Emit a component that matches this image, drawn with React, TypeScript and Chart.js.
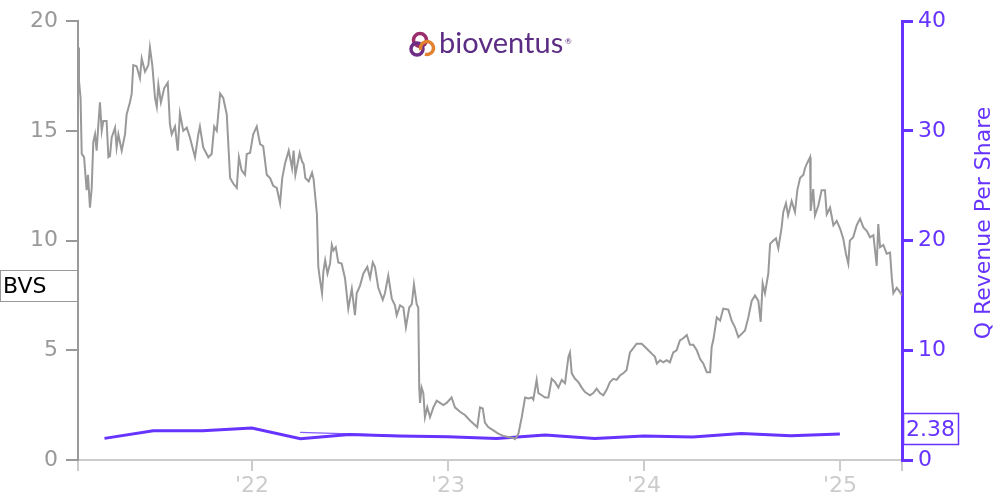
import React, { useEffect, useRef } from "react";
import { Chart, registerables } from "chart.js";

Chart.register(...registerables);

// BVS close price (decimal year, USD)
const priceT = [
  2021.112, 2021.117, 2021.125, 2021.131, 2021.143, 2021.156, 2021.163, 2021.173, 2021.182, 2021.19,
  2021.199, 2021.207, 2021.216, 2021.224, 2021.233, 2021.241, 2021.258, 2021.267, 2021.275, 2021.284,
  2021.301, 2021.309, 2021.318, 2021.335, 2021.352, 2021.36, 2021.377, 2021.386, 2021.394, 2021.411,
  2021.428, 2021.437, 2021.454, 2021.471, 2021.479, 2021.491, 2021.505, 2021.514, 2021.522, 2021.535,
  2021.552, 2021.57, 2021.581, 2021.59, 2021.607, 2021.621, 2021.632, 2021.649, 2021.667, 2021.683,
  2021.709, 2021.726, 2021.734, 2021.751, 2021.777, 2021.794, 2021.807, 2021.82, 2021.837, 2021.853,
  2021.871, 2021.888, 2021.904, 2021.922, 2021.933, 2021.947, 2021.964, 2021.973, 2021.99, 2022.006,
  2022.024, 2022.041, 2022.057, 2022.075, 2022.092, 2022.108, 2022.126, 2022.143, 2022.154, 2022.168,
  2022.187, 2022.204, 2022.212, 2022.221, 2022.243, 2022.255, 2022.263, 2022.272, 2022.289, 2022.306,
  2022.314, 2022.331, 2022.338, 2022.347, 2022.357, 2022.364, 2022.373, 2022.385, 2022.398, 2022.407,
  2022.415, 2022.427, 2022.44, 2022.457, 2022.474, 2022.491, 2022.509, 2022.525, 2022.534, 2022.551,
  2022.568, 2022.588, 2022.602, 2022.616, 2022.627, 2022.644, 2022.667, 2022.678, 2022.695, 2022.713,
  2022.729, 2022.738, 2022.755, 2022.772, 2022.785, 2022.802, 2022.815, 2022.826, 2022.84, 2022.848,
  2022.853, 2022.857, 2022.865, 2022.874, 2022.882, 2022.894, 2022.908, 2022.925, 2022.942, 2022.959,
  2022.976, 2022.993, 2023.018, 2023.035, 2023.061, 2023.086, 2023.112, 2023.137, 2023.149, 2023.163,
  2023.177, 2023.188, 2023.205, 2023.231, 2023.256, 2023.282, 2023.307, 2023.333, 2023.342, 2023.359,
  2023.376, 2023.393, 2023.41, 2023.427, 2023.435, 2023.452, 2023.461, 2023.478, 2023.495, 2023.512,
  2023.529, 2023.546, 2023.563, 2023.58, 2023.597, 2023.614, 2023.622, 2023.631, 2023.648, 2023.665,
  2023.682, 2023.699, 2023.724, 2023.741, 2023.758, 2023.775, 2023.792, 2023.809, 2023.826, 2023.843,
  2023.86, 2023.877, 2023.894, 2023.911, 2023.928, 2023.945, 2023.962, 2023.988, 2024.005, 2024.022,
  2024.039, 2024.056, 2024.065, 2024.082, 2024.098, 2024.115, 2024.132, 2024.141, 2024.149, 2024.166,
  2024.183, 2024.2, 2024.218, 2024.234, 2024.251, 2024.269, 2024.286, 2024.302, 2024.32, 2024.337,
  2024.345, 2024.354, 2024.371, 2024.388, 2024.404, 2024.43, 2024.447, 2024.464, 2024.481, 2024.498,
  2024.515, 2024.532, 2024.549, 2024.566, 2024.583, 2024.595, 2024.605, 2024.617, 2024.634, 2024.643,
  2024.66, 2024.673, 2024.685, 2024.702, 2024.71, 2024.724, 2024.735, 2024.753, 2024.77, 2024.782,
  2024.796, 2024.813, 2024.821, 2024.833, 2024.847, 2024.85, 2024.863, 2024.872, 2024.889, 2024.906,
  2024.923, 2024.932, 2024.949, 2024.966, 2024.983, 2025.0, 2025.016, 2025.03, 2025.042, 2025.05,
  2025.067, 2025.085, 2025.102, 2025.119, 2025.136, 2025.153, 2025.17, 2025.187, 2025.195, 2025.204,
  2025.221, 2025.238, 2025.255, 2025.264, 2025.272, 2025.289, 2025.306, 2025.316,
];
const priceV = [
  18.8, 17.3, 16.5, 13.95, 13.8, 12.3, 13.0, 11.5, 12.4, 14.5,
  14.85, 14.1, 15.3, 16.3, 15.0, 15.45, 15.45, 13.8, 13.85, 14.7,
  15.15, 14.25, 14.85, 14.1, 14.85, 15.75, 16.3, 16.7, 18.0, 17.95,
  17.4, 18.3, 17.7, 18.0, 18.8, 18.0, 16.5, 16.1, 17.1, 16.3,
  16.95, 17.2, 15.3, 14.85, 15.2, 14.1, 15.8, 15.0, 15.15, 14.7,
  13.8, 14.85, 15.2, 14.25, 13.8, 13.95, 15.2, 15.0, 16.7, 16.5,
  15.75, 12.85, 12.6, 12.4, 13.8, 13.2, 13.0, 13.95, 14.0, 14.85,
  15.2, 14.4, 14.3, 13.0, 12.85, 12.5, 12.4, 11.7, 12.85, 13.5,
  14.1, 13.3, 14.1, 13.0, 14.0, 13.6, 13.5, 12.85, 12.7, 13.1,
  12.8, 11.2, 8.8, 8.2, 7.6, 8.6, 9.1, 8.5, 8.95, 9.8,
  9.55, 9.7, 9.0, 8.95, 8.3, 6.9, 7.8, 6.6, 7.6, 7.95,
  8.5, 8.8, 8.3, 9.0, 8.8, 7.85, 7.3, 7.6, 8.4, 7.35,
  7.05, 6.6, 7.05, 6.95, 6.05, 6.95, 7.1, 8.0, 7.1, 6.95,
  3.3, 2.6, 3.3, 3.05, 1.95, 2.4, 1.95, 2.4, 2.7, 2.6,
  2.5, 2.6, 2.85, 2.4, 2.2, 2.05, 1.8, 1.6, 1.5, 2.4,
  2.35, 1.7, 1.5, 1.35, 1.2, 1.1, 1.05, 1.0, 0.95, 1.2,
  1.95, 2.85, 2.8, 2.85, 2.75, 3.65, 3.05, 2.95, 2.85, 2.85,
  3.7, 3.55, 3.3, 3.65, 3.5, 4.7, 4.9, 3.95, 3.7, 3.55,
  3.3, 3.1, 2.95, 3.05, 3.25, 3.05, 2.95, 3.2, 3.55, 3.7,
  3.65, 3.85, 3.95, 4.1, 4.9, 5.1, 5.3, 5.3, 5.15, 5.0,
  4.85, 4.7, 4.4, 4.55, 4.45, 4.55, 4.45, 4.7, 4.9, 5.0,
  5.45, 5.55, 5.7, 5.25, 5.25, 5.0, 4.6, 4.4, 4.0, 4.0,
  5.15, 5.5, 6.5, 6.35, 6.9, 6.85, 6.35, 6.05, 5.6, 5.75,
  5.9, 6.5, 7.25, 7.5, 7.25, 6.3, 8.05, 7.6, 8.5, 9.85,
  10.0, 10.1, 9.65, 10.6, 11.3, 11.7, 11.15, 11.8, 11.3, 12.3,
  12.85, 13.0, 13.3, 13.55, 13.8, 11.35, 12.35, 11.15, 11.6, 12.3,
  12.3, 11.2, 11.5, 10.7, 10.9, 10.55, 10.1, 9.4, 8.95, 10.0,
  10.15, 10.7, 11.0, 10.6, 10.45, 10.15, 10.25, 8.85, 10.75, 9.7,
  9.8, 9.4, 9.45, 8.3, 7.6, 7.85, 7.65, 7.5,
];

// Quarterly revenue per share (quarter ends, decimal year)
const revT = [
  2021.247, 2021.496, 2021.748, 2021.999, 2022.247, 2022.496, 2022.748, 2022.999,
  2023.247, 2023.496, 2023.748, 2023.999, 2024.247, 2024.496, 2024.748, 2024.999,
];
const revV = [1.97, 2.67, 2.67, 2.91, 1.94, 2.33, 2.18, 2.12, 1.97, 2.27, 1.97, 2.18, 2.1, 2.42, 2.22, 2.38];

// Faint secondary revenue trace
const revThinT = [2022.245, 2022.5, 2022.755, 2022.999];
const revThinV = [2.52, 2.38, 2.22, 2.13];

const xMin = 2021.112;
const xMax = 2025.316;
const xTickValues = [2021.112, 2022, 2023, 2024, 2025, 2025.316];
const leftTicks = [0, 5, 10, 15, 20];
const rightTicks = [0, 10, 20, 30, 40];

const tickerLabel = "BVS";
const tickerLabelValue = 7.95;
const revLastLabel = "2.38";
const revLastValue = 2.38;
const rightTitle = "Q Revenue Per Share";

const GRAY = "#999999";
const LIGHT = "#cccccc";
const PURPLE = "#6633ff";
const FONT = "DejaVu Sans";

const overlayPlugin = {
  id: "overlay",
  afterDraw(chart: any) {
    const ctx = chart.ctx as CanvasRenderingContext2D;
    const ys = chart.scales.y;
    const yr = chart.scales.y1;
    const area = chart.chartArea;
    ctx.save();

    // ticker box on the left
    const yb = Math.round(ys.getPixelForValue(tickerLabelValue));
    ctx.fillStyle = "#ffffff";
    ctx.fillRect(0, yb - 16, area.left - 1, 32);
    ctx.strokeStyle = GRAY;
    ctx.lineWidth = 1;
    ctx.strokeRect(0.5, yb - 15.5, area.left - 1, 31);
    ctx.fillStyle = "#000000";
    ctx.font = `22px "${FONT}"`;
    ctx.textBaseline = "middle";
    ctx.textAlign = "left";
    ctx.fillText(tickerLabel, 3, yb + 1);

    // last revenue box on the right
    const yv = Math.round(yr.getPixelForValue(revLastValue)) - 5;
    ctx.fillStyle = "#ffffff";
    ctx.fillRect(area.right + 1, yv - 16, 56, 32);
    ctx.strokeStyle = PURPLE;
    ctx.lineWidth = 1.5;
    ctx.strokeRect(area.right + 1.5, yv - 15.5, 55, 31);
    ctx.fillStyle = PURPLE;
    ctx.fillText(revLastLabel, area.right + 4, yv + 1);

    // right axis title, reading bottom-to-top
    ctx.save();
    ctx.translate(984, 223);
    ctx.rotate(-Math.PI / 2);
    ctx.textAlign = "center";
    ctx.textBaseline = "middle";
    ctx.fillStyle = PURPLE;
    ctx.font = `22px "${FONT}"`;
    ctx.fillText(rightTitle, 0, 0);
    ctx.restore();

    // logo
    const lx = 419;
    const ly = 44;
    ctx.lineWidth = 3.5;
    ctx.strokeStyle = "#9b2d6b";
    ctx.beginPath();
    ctx.arc(lx + 1, ly - 4, 6.5, 0, Math.PI * 2);
    ctx.stroke();
    ctx.strokeStyle = "#6e2e86";
    ctx.beginPath();
    ctx.arc(lx - 2, ly + 5, 6, 0, Math.PI * 2);
    ctx.stroke();
    ctx.strokeStyle = "#e2822f";
    ctx.beginPath();
    ctx.arc(lx + 8, ly + 4, 6.5, Math.PI * 0.9, Math.PI * 2.6);
    ctx.stroke();

    ctx.fillStyle = "#5c2d84";
    ctx.font = "29px Lato";
    ctx.textBaseline = "alphabetic";
    ctx.textAlign = "left";
    ctx.fillText("bioventus", 439, 53);
    ctx.font = "8px Lato";
    ctx.fillText("®", 565, 44);
    ctx.restore();
  },
};

export default function App() {
  const ref = useRef<HTMLCanvasElement | null>(null);

  useEffect(() => {
    if (!ref.current) return;
    const chart = new Chart(ref.current, {
      type: "line",
      data: {
        datasets: [
          {
            label: "BVS",
            data: priceT.map((t, i) => ({ x: t, y: priceV[i] })),
            borderColor: GRAY,
            borderWidth: 2,
            pointRadius: 0,
            yAxisID: "y",
            order: 0,
          },
          {
            label: "Q Revenue Per Share",
            data: revT.map((t, i) => ({ x: t, y: revV[i] })),
            borderColor: PURPLE,
            borderWidth: 3,
            pointRadius: 0,
            yAxisID: "y1",
            order: 2,
          },
          {
            label: "Q Revenue Per Share (prior)",
            data: revThinT.map((t, i) => ({ x: t, y: revThinV[i] })),
            borderColor: "rgba(102,51,255,0.8)",
            borderWidth: 1.2,
            pointRadius: 0,
            yAxisID: "y1",
            order: 1,
          },
        ],
      },
      options: {
        responsive: false,
        animation: false,
        events: [],
        layout: { padding: { top: 20, left: 0, right: 0, bottom: 0 } },
        plugins: { legend: { display: false }, tooltip: { enabled: false } },
        scales: {
          x: {
            type: "linear",
            min: xMin,
            max: xMax,
            afterBuildTicks: (s: any) => {
              s.ticks = xTickValues.map((v) => ({ value: v }));
            },
            afterFit: (s: any) => {
              s.height = 40;
            },
            ticks: {
              autoSkip: false,
              maxRotation: 0,
              color: LIGHT,
              padding: 2,
              font: { family: FONT, size: 22 },
              callback: (v: any) => (Number.isInteger(v) ? "'" + String(v).slice(2) : ""),
            },
            grid: { drawOnChartArea: false, color: LIGHT, tickLength: 11, lineWidth: 2 },
            border: { color: LIGHT, width: 2 },
          },
          y: {
            position: "left",
            min: 0,
            max: 20,
            afterBuildTicks: (s: any) => {
              s.ticks = leftTicks.map((v) => ({ value: v }));
            },
            afterFit: (s: any) => {
              s.width = 78;
            },
            ticks: { color: GRAY, padding: 8, font: { family: FONT, size: 22 } },
            grid: { drawOnChartArea: false, color: GRAY, tickLength: 12, lineWidth: 2 },
            border: { color: GRAY, width: 2 },
          },
          y1: {
            position: "right",
            min: 0,
            max: 40,
            afterBuildTicks: (s: any) => {
              s.ticks = rightTicks.map((v) => ({ value: v }));
            },
            afterFit: (s: any) => {
              s.width = 98;
            },
            ticks: { color: PURPLE, padding: 5, font: { family: FONT, size: 22 } },
            grid: { drawOnChartArea: false, color: PURPLE, tickLength: 11, lineWidth: 3 },
            border: { color: PURPLE, width: 3 },
          },
        },
      },
      plugins: [overlayPlugin],
    });
    return () => chart.destroy();
  }, []);

  return (
    <div style={{ position: "absolute", left: 0, top: 0, width: 1000, height: 500, background: "#fff" }}>
      <canvas ref={ref} width={1000} height={500} style={{ display: "block" }} />
    </div>
  );
}
